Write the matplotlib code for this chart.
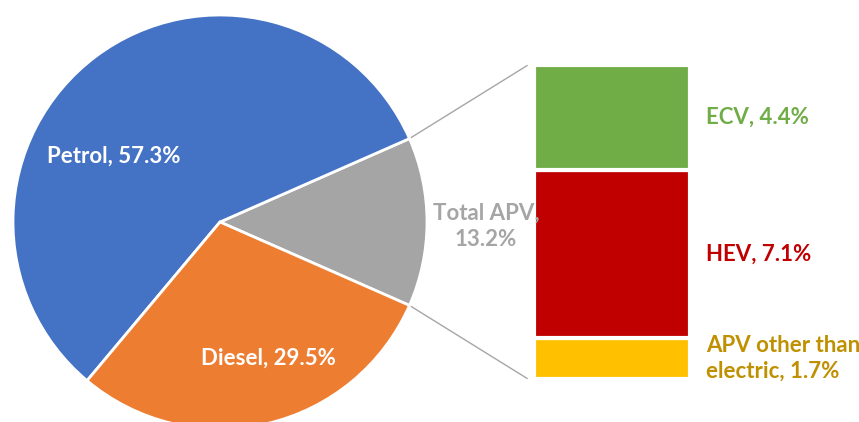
import matplotlib.pyplot as plt
from matplotlib.patches import ConnectionPatch
import numpy as np

# main pie
pie_labels = ['Total APV', 'Petrol', 'Diesel']
pie_values = [13.2, 57.3, 29.5]
pie_colors = ['#A5A5A5', '#4472C4', '#ED7D31']

# breakdown of APV (bottom to top)
bar_labels = ['APV other than\nelectric', 'HEV', 'ECV']
bar_values = [1.7, 7.1, 4.4]
bar_colors = ['#FFC000', '#C00000', '#70AD47']
bar_text_colors = ['#BF9000', '#C00000', '#70AD47']

plt.rcParams['font.family'] = ['Lato', 'DejaVu Sans']

W, H = 859, 422
fig = plt.figure(figsize=(W / 100, H / 100), dpi=100)

# pie axes in pixel units (y up)
ax = fig.add_axes([0, 0, 1, 1])
cx, cy, r = 220, H - 222, 207
start = -pie_values[0] / 100 * 360 / 2
wedges, _ = ax.pie(pie_values, colors=pie_colors, startangle=start,
                   center=(cx, cy), radius=r, counterclock=True,
                   wedgeprops=dict(edgecolor='white', linewidth=2))
ax.set_xlim(0, W)
ax.set_ylim(0, H)
ax.set_aspect('auto')
ax.axis('off')
ax.set_zorder(3)

fs = 16
ax.text(114, H - 156, f'{pie_labels[1]}, {pie_values[1]}%', color='white',
        fontsize=fs, fontweight='bold', ha='center', va='center')
ax.text(268, H - 358, f'{pie_labels[2]}, {pie_values[2]}%', color='white',
        fontsize=fs, fontweight='bold', ha='center', va='center')
ax.text(486, H - 226, f'{pie_labels[0]},\n{pie_values[0]}%', color='#A5A5A5',
        fontsize=fs, fontweight='bold', ha='center', va='center', linespacing=1.3)

# stacked bar
bx0, bx1, by0, by1 = 533.5, 690.5, 378.5, 65.5
bax = fig.add_axes([bx0 / W, (H - by0) / H, (bx1 - bx0) / W, (by0 - by1) / H])
bax.set_zorder(1)
bottom = 0
total = sum(bar_values)
for lab, val, col, tcol in zip(bar_labels, bar_values, bar_colors, bar_text_colors):
    bax.bar(0, val, bottom=bottom, width=1, color=col, edgecolor='white', linewidth=3)
    bax.text(1.10, bottom + val / 2, f'{lab}, {val}%', color=tcol, fontsize=fs,
             fontweight='bold', ha='left', va='center', linespacing=1.3,
             transform=bax.get_yaxis_transform())
    bottom += val
bax.set_xlim(-0.5, 0.5)
bax.set_ylim(0, total)
bax.axis('off')

# connector lines
theta = np.deg2rad(-start)
for sgn, ytarget in [(1, total), (-1, 0)]:
    p = (cx + r * np.cos(theta), cy + sgn * r * np.sin(theta))
    con = ConnectionPatch(xyA=p, coordsA=ax.transData, xyB=(-0.54, ytarget),
                          coordsB=bax.transData, color='#A6A6A6', linewidth=1)
    fig.add_artist(con)

fig.savefig('out.png', dpi=100)
